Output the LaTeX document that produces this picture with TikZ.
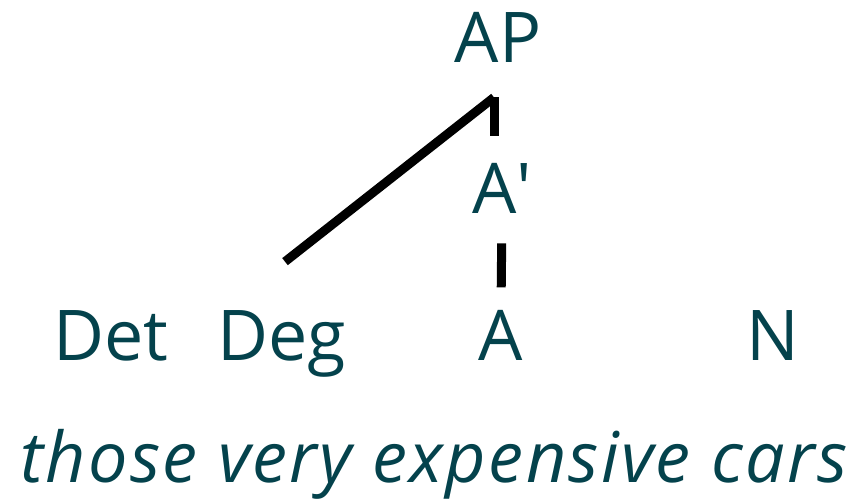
\documentclass[tikz,border=0pt]{standalone}
\usepackage{fontspec}
\setmainfont{Open Sans}
\usepackage{tikz}
\usetikzlibrary{calc}
\definecolor{treeink}{RGB}{4,66,76}

\tikzset{
  cat/.style={anchor=base,inner sep=0pt,text=treeink,font=\fontsize{35}{42}\selectfont},
  branch/.style={line width=4.5pt,black}
}

\begin{document}
\begin{tikzpicture}[x=0.5pt,y=-0.5pt]
  \useasboundingbox (0,0) rectangle (852,500);

  \node[cat] (AP)  at (498,62)  {AP};
  \node[cat] (Abar) at (502,213) {A\textquotesingle};

  \node[cat] (Det) at (111,360) {Det};
  \node[cat] (Deg) at (282,360) {Deg};
  \node[cat] (A)   at (501,360) {A};
  \node[cat] (N)   at (773,360) {N};

  \node[cat,font=\fontsize{35}{42}\selectfont\itshape\addfontfeatures{LetterSpace=3.4}] (words) at (434,482) {those very expensive cars};

  % junction under AP, top of Deg's branch
  \coordinate (APjoin) at ($(AP.south)+(-4,35)$);
  \coordinate (Degtop) at ($(Deg.north)+(3,-48)$);

  \draw[branch] (Degtop) -- (APjoin);
  \draw[branch,shorten >=13pt] (APjoin) -- (APjoin |- Abar.north);
  \draw[branch,shorten <=15pt,shorten >=11pt] (Abar.south) -- (A.north);
\end{tikzpicture}
\end{document}
